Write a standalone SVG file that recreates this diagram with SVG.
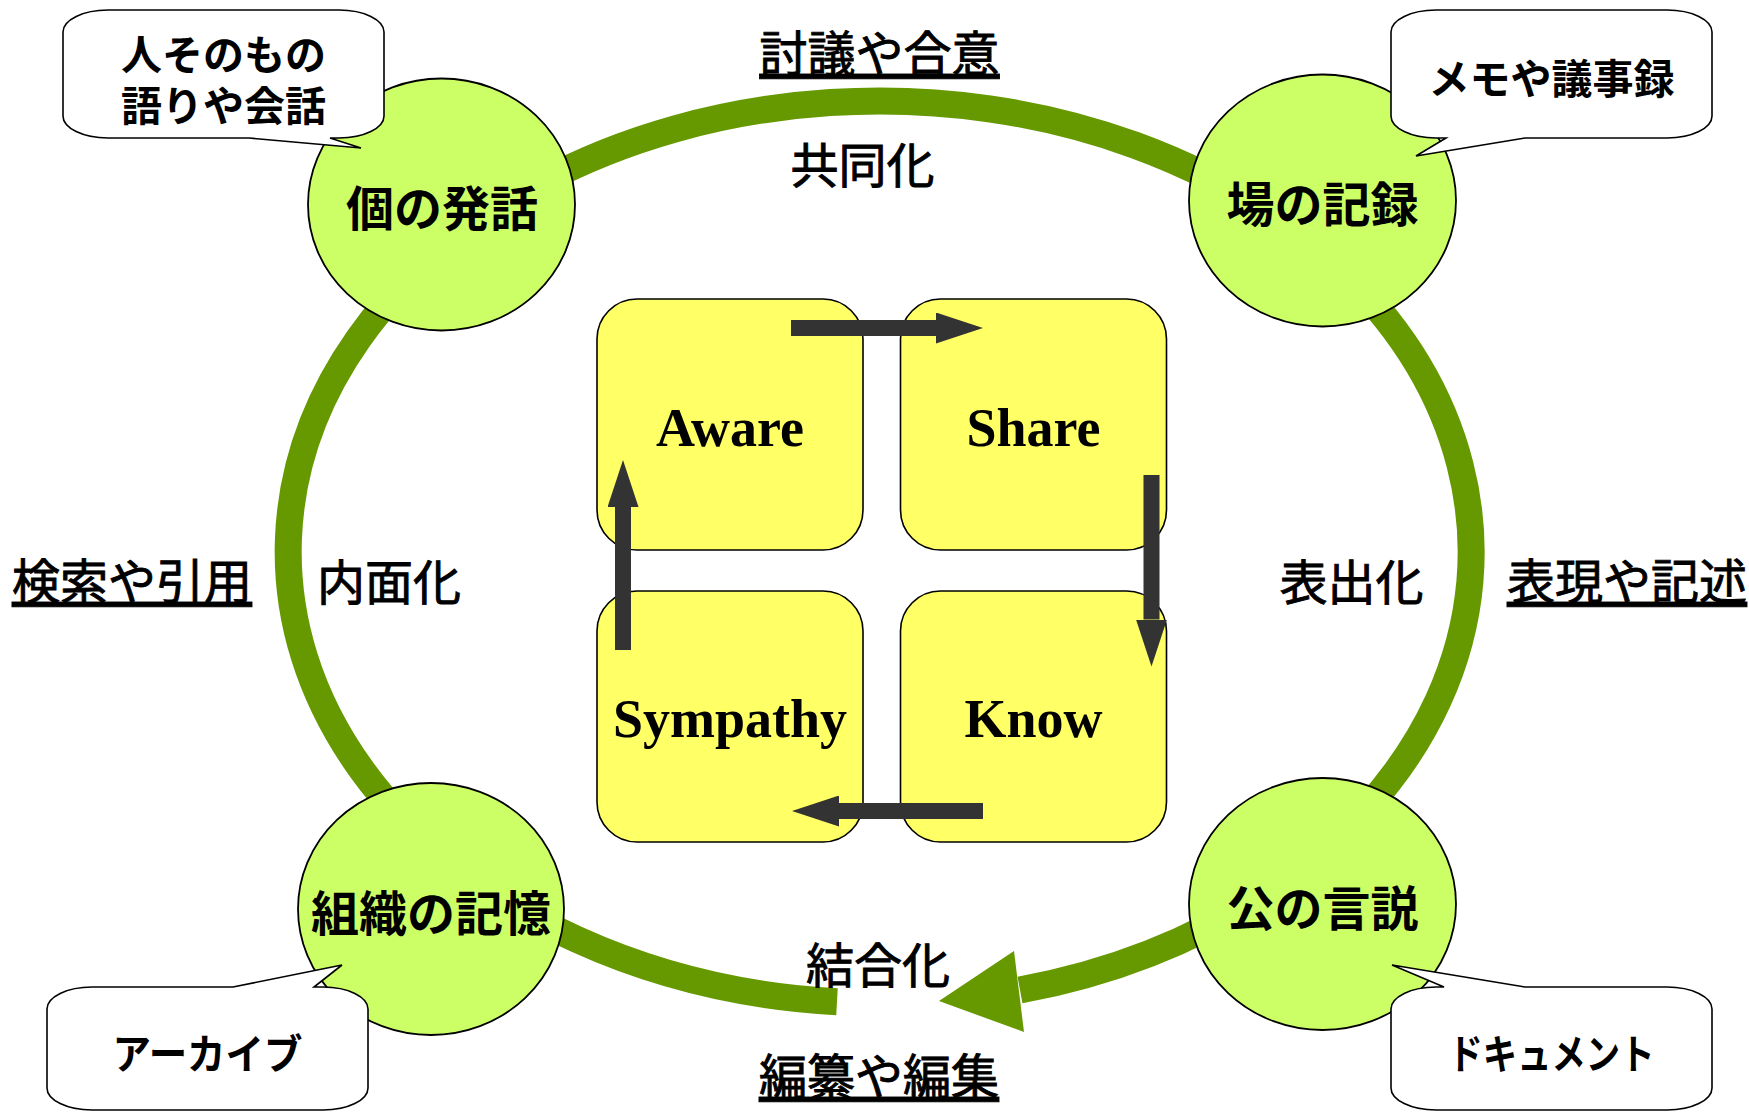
<svg xmlns="http://www.w3.org/2000/svg" width="1749" height="1112" viewBox="0 0 1749 1112">
<style>
.jp{font-family:"Noto Sans CJK JP","Noto Sans CJK SC",sans-serif;text-anchor:middle;fill:#000}
.circ{fill:#CCFF66;stroke:#000;stroke-width:1.8}
.circ-t{font-size:48px;font-weight:700}
.call{fill:#fff;stroke:#000;stroke-width:1.6;stroke-linejoin:miter}
.call-t{font-size:41px;font-weight:700}
.lab{font-size:48px;font-weight:400;stroke:#000;stroke-width:0.9}
.ul{text-decoration:underline}
.box{fill:#FFFF66;stroke:#000;stroke-width:1.6}
.box-t{font-family:"Liberation Serif","Times New Roman",serif;font-size:54px;font-weight:700;text-anchor:middle;fill:#000}
.ring{fill:none;stroke:#669900;stroke-width:27}
.dark{stroke:#333333;stroke-width:16;fill:none}
</style>
<defs>
<marker id="dh" markerUnits="userSpaceOnUse" viewBox="0 0 47 31" markerWidth="47" markerHeight="31" refX="0" refY="15.5" orient="auto">
<path d="M0,0 L47,15.5 L0,31 Z" fill="#333333"/>
</marker>
</defs>
<rect width="1749" height="1112" fill="#fff"/>

<g id="connectors">
<path class="ring" d="M 837 1001.8 A 591.5 451 0 1 1 1020 990.1"/>
<polygon points="939,1001 1014,951 1024,1032" fill="#669900"/>
</g>

<g id="node-kono-hatsuwa">
<ellipse class="circ" cx="441.5" cy="204.5" rx="133.5" ry="126"/>
<text class="jp circ-t" x="442" y="226">個の発話</text>
</g>
<g id="node-ba-no-kiroku">
<ellipse class="circ" cx="1322.5" cy="200.5" rx="133.5" ry="126"/>
<text class="jp circ-t" x="1322.5" y="222">場の記録</text>
</g>
<g id="node-soshiki-no-kioku">
<ellipse class="circ" cx="431" cy="909" rx="133" ry="126"/>
<text class="jp circ-t" x="431" y="931">組織の記憶</text>
</g>
<g id="node-oyake-no-gensetsu">
<ellipse class="circ" cx="1322.5" cy="904" rx="133.5" ry="126"/>
<text class="jp circ-t" x="1322.5" y="926">公の言説</text>
</g>

<g id="callout-top-left">
<path class="call" d="M 108 10 H 339 A 45 22 0 0 1 384 32 V 116 A 45 22 0 0 1 339 138 H 330 L 361 148 L 249 138 H 108 A 45 22 0 0 1 63 116 V 32 A 45 22 0 0 1 108 10 Z"/>
<text class="jp call-t" x="223.5" y="70">人そのもの</text>
<text class="jp call-t" x="223.5" y="121">語りや会話</text>
</g>
<g id="callout-top-right">
<path class="call" d="M 1436 10 H 1667 A 45 22 0 0 1 1712 32 V 116 A 45 22 0 0 1 1667 138 H 1525 L 1416 156 L 1446 138 H 1436 A 45 22 0 0 1 1391 116 V 32 A 45 22 0 0 1 1436 10 Z"/>
<text class="jp call-t" x="1551.5" y="94">メモや議事録</text>
</g>
<g id="callout-bottom-left">
<path class="call" d="M 92 987 H 233 L 342 965 L 314 987 H 323 A 45 22 0 0 1 368 1009 V 1088 A 45 22 0 0 1 323 1110 H 92 A 45 22 0 0 1 47 1088 V 1009 A 45 22 0 0 1 92 987 Z"/>
<text class="jp call-t" x="207.5" y="1069" textLength="190" lengthAdjust="spacingAndGlyphs">アーカイブ</text>
</g>
<g id="callout-bottom-right">
<path class="call" d="M 1436 987 H 1444 L 1392 965 L 1525 987 H 1667 A 45 22 0 0 1 1712 1009 V 1088 A 45 22 0 0 1 1667 1110 H 1436 A 45 22 0 0 1 1391 1088 V 1009 A 45 22 0 0 1 1436 987 Z"/>
<text class="jp call-t" x="1551.5" y="1069" textLength="206" lengthAdjust="spacingAndGlyphs">ドキュメント</text>
</g>

<g id="box-aware">
<rect class="box" x="597" y="299" width="266" height="251" rx="40" ry="40"/>
<text class="box-t" x="730" y="446">Aware</text>
</g>
<g id="box-share">
<rect class="box" x="900.5" y="299" width="266" height="251" rx="40" ry="40"/>
<text class="box-t" x="1033.5" y="446">Share</text>
</g>
<g id="box-sympathy">
<rect class="box" x="597" y="591" width="266" height="251" rx="40" ry="40"/>
<text class="box-t" x="730" y="737">Sympathy</text>
</g>
<g id="box-know">
<rect class="box" x="900.5" y="591" width="266" height="251" rx="40" ry="40"/>
<text class="box-t" x="1033.5" y="737">Know</text>
</g>

<g id="inner-arrows">
<line class="dark" x1="791" y1="328" x2="936" y2="328" marker-end="url(#dh)"/>
<line class="dark" x1="1151.5" y1="475" x2="1151.5" y2="619.5" marker-end="url(#dh)"/>
<line class="dark" x1="983" y1="811" x2="839" y2="811" marker-end="url(#dh)"/>
<line class="dark" x1="623" y1="650" x2="623" y2="507" marker-end="url(#dh)"/>
</g>

<g id="labels">
<text class="jp lab ul" x="879.5" y="71">討議や合意</text>
<text class="jp lab" x="862.5" y="183">共同化</text>
<text class="jp lab ul" x="132" y="599">検索や引用</text>
<text class="jp lab" x="389" y="600">内面化</text>
<text class="jp lab" x="1351.5" y="600">表出化</text>
<text class="jp lab ul" x="1627" y="599">表現や記述</text>
<text class="jp lab" x="878" y="983">結合化</text>
<text class="jp lab ul" x="879" y="1094">編纂や編集</text>
</g>
</svg>
